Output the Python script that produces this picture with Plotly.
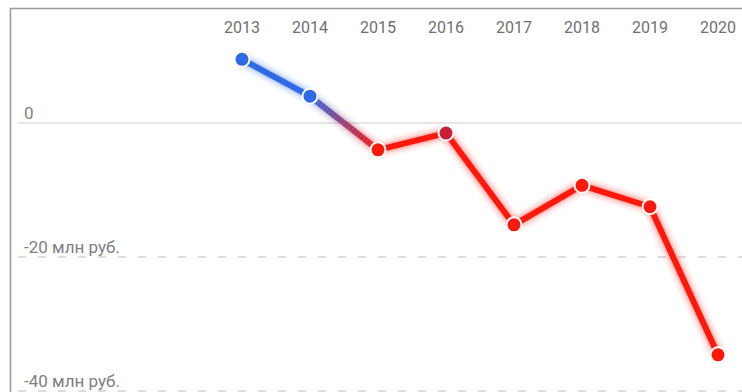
import numpy as np
import plotly.graph_objects as go

# Financial result by year, млн руб.
years = [2013, 2014, 2015, 2016, 2017, 2018, 2019, 2020]
values = [9.5, 4.0, -4.0, -1.5, -15.2, -9.3, -12.5, -34.6]

y_tick_vals = [0, -20, -40]
y_tick_text = ["0", "-20 млн руб.", "-40 млн руб."]

BLUE = (47, 106, 230)
RED = (255, 24, 12)
HIGHLIGHT_YEAR = 2016
HIGHLIGHT_COLOR = "rgb(200,30,55)"


def rgb(c, a=None):
    if a is None:
        return "rgb(%d,%d,%d)" % c
    return "rgba(%d,%d,%d,%.3f)" % (c + (a,))


def mix(c1, c2, t):
    return tuple(int(round(a + (b - a) * t)) for a, b in zip(c1, c2))


fig = go.Figure()

# Build colored line pieces: solid blue above zero, solid red below,
# and a blue-to-red blend on the segment that crosses zero.
pieces = []  # (xs, ys, color)
for i in range(len(years) - 1):
    x0, x1 = years[i], years[i + 1]
    y0, y1 = values[i], values[i + 1]
    if y0 >= 0 and y1 >= 0:
        pieces.append(([x0, x1], [y0, y1], BLUE))
    elif y0 < 0 and y1 < 0:
        pieces.append(([x0, x1], [y0, y1], RED))
    else:
        n = 24
        ts = np.linspace(0, 1, n + 1)
        c_start, c_end = (BLUE, RED) if y0 >= 0 else (RED, BLUE)
        for k in range(n):
            ta, tb = ts[k], ts[k + 1]
            xs = [x0 + (x1 - x0) * ta, x0 + (x1 - x0) * tb]
            ys = [y0 + (y1 - y0) * ta, y0 + (y1 - y0) * tb]
            pieces.append((xs, ys, mix(c_start, c_end, (ta + tb) / 2)))

# soft glow under the line
for width, alpha in [(20, 0.04), (16, 0.06), (12, 0.09), (9, 0.14)]:
    for xs, ys, c in pieces:
        fig.add_trace(go.Scatter(
            x=xs, y=ys, mode="lines",
            line=dict(color=rgb(c, alpha), width=width),
            hoverinfo="skip", showlegend=False, cliponaxis=False,
        ))

# main line
for xs, ys, c in pieces:
    fig.add_trace(go.Scatter(
        x=xs, y=ys, mode="lines",
        line=dict(color=rgb(c), width=6),
        hoverinfo="skip", showlegend=False, cliponaxis=False,
    ))

marker_colors = []
for yr, v in zip(years, values):
    if yr == HIGHLIGHT_YEAR:
        marker_colors.append(HIGHLIGHT_COLOR)
    else:
        marker_colors.append(rgb(BLUE) if v >= 0 else rgb(RED))

fig.add_trace(go.Scatter(
    x=years, y=values, mode="markers",
    marker=dict(size=15, color=marker_colors,
                line=dict(color="white", width=2)),
    showlegend=False, cliponaxis=False,
    hovertemplate="%{x}: %{y} млн руб.<extra></extra>",
))

# value labels sit just above their gridlines at the left edge
for val, txt in zip(y_tick_vals, y_tick_text):
    fig.add_annotation(
        x=0.0055, xref="paper", y=val, yref="y",
        text=txt, showarrow=False,
        xanchor="left", yanchor="bottom", yshift=-2,
        font=dict(size=17, color="#808080"),
    )

# outer frame of the widget (top and left edges visible)
fig.add_shape(type="rect", xref="paper", yref="paper",
              x0=-0.0104, x1=1.2, y0=-0.2, y1=1.105,
              line=dict(color="#9a9a9a", width=1.5), layer="below")

fig.update_layout(
    width=742, height=392,
    margin=dict(l=18, r=0, t=45, b=0),
    paper_bgcolor="white", plot_bgcolor="white",
    font=dict(family="Roboto", size=16, color="#7a7a7a"),
    xaxis=dict(
        range=[2009.706, 2020.353],
        side="top",
        tickvals=years,
        ticktext=[str(y) for y in years],
        showgrid=False, zeroline=False, showline=False,
        ticks="", ticklabelstandoff=8,
        tickfont=dict(size=16, color="#707070"),
    ),
    yaxis=dict(
        range=[-40.15, 11.64],
        tickvals=y_tick_vals,
        showticklabels=False,
        showgrid=True, gridcolor="#dcdcdc", gridwidth=1.5,
        griddash="8px,12px",
        zeroline=True, zerolinecolor="#e6e6e6", zerolinewidth=2,
        showline=False, ticks="",
    ),
)

fig.write_html("out.html")
